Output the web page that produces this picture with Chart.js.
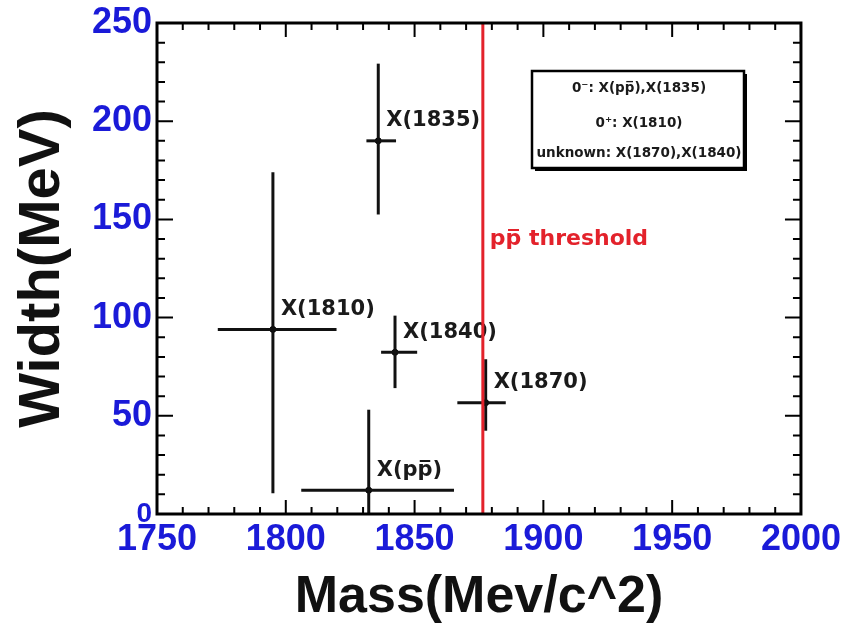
<!DOCTYPE html>
<html><head><meta charset="utf-8">
<script src="https://cdn.jsdelivr.net/npm/chart.js@4/dist/chart.umd.min.js"></script>
<style>html,body{margin:0;padding:0;background:#fff;}#wrap{width:849px;height:633px;position:relative;}</style>
</head><body><div id="wrap"><canvas id="c"></canvas></div>
<script>
// ---- data ----
const names      = ['X(p\u0070\u0305)', 'X(1810)', 'X(1835)', 'X(1840)', 'X(1870)'];
const mass       = [1832.2, 1795.0, 1835.9, 1842.4, 1877.6];
const massErrLo  = [26.2, 21.4, 4.6, 5.4, 11.0];
const massErrHi  = [33.1, 24.7, 6.9, 8.6, 7.8];
const width      = [12.1, 94.0, 190.0, 82.3, 56.7];
const widthErrUp = [41.0, 80.0, 39.3, 18.7, 22.1];
const widthErrDn = [20.0, 83.4, 37.5, 18.2, 14.3];
const threshold  = 1876.5;
const xTicks     = [1750, 1800, 1850, 1900, 1950, 2000];
const yTicks     = [0, 50, 100, 150, 200, 250];
const legendLines = ['0\u207B: X(p\u0070\u0305),X(1835)', '0\u207A: X(1810)', 'unknown: X(1870),X(1840)'];
const thresholdLabel = 'p\u0070\u0305 threshold';

// ---- datasets ----
const datasets = [];
datasets.push({ label: 'threshold', data: [{x: threshold, y: 0}, {x: threshold, y: 250}],
  showLine: true, borderColor: '#e3222b', borderWidth: 3, pointRadius: 0 });
for (let i = 0; i < names.length; i++) {
  datasets.push({ label: names[i] + ' mass', data: [{x: mass[i] - massErrLo[i], y: width[i]}, {x: mass[i] + massErrHi[i], y: width[i]}],
    showLine: true, borderColor: '#111', borderWidth: 3, pointRadius: 0 });
  datasets.push({ label: names[i] + ' width', data: [{x: mass[i], y: width[i] - widthErrDn[i]}, {x: mass[i], y: width[i] + widthErrUp[i]}],
    showLine: true, borderColor: '#111', borderWidth: 3, pointRadius: 0 });
}
datasets.push({ label: 'centres', data: mass.map((m, i) => ({x: m, y: width[i]})),
  showLine: false, backgroundColor: '#000', borderColor: '#000', pointRadius: 3 });

const BLUE = '#1a1ad8';
const TICKFONT = '"Liberation Sans", Arial';

const decor = {
  id: 'decor',
  beforeDatasetsDraw(chart) {
    const {ctx, scales: {x, y}} = chart;
    ctx.save();
    ctx.font = 'bold 21px "DejaVu Sans"';
    ctx.fillStyle = '#1a1a1a';
    ctx.textAlign = 'left';
    ctx.textBaseline = 'middle';
    names.forEach((n, i) => {
      ctx.fillText(n, x.getPixelForValue(mass[i]) + 8, y.getPixelForValue(width[i]) - 20);
    });
    ctx.restore();
  },
  afterDatasetsDraw(chart) {
    const {ctx, chartArea: a, scales: {x, y}} = chart;
    ctx.save();
    ctx.font = 'bold 22px "DejaVu Sans"';
    ctx.fillStyle = '#e3222b';
    ctx.textAlign = 'left';
    ctx.textBaseline = 'middle';
    ctx.fillText(thresholdLabel, x.getPixelForValue(threshold) + 7, y.getPixelForValue(140));
    ctx.strokeStyle = '#000';
    ctx.lineWidth = 3;
    ctx.strokeRect(a.left, a.top, a.right - a.left, a.bottom - a.top);
    ctx.lineWidth = 2;
    ctx.beginPath();
    for (let v = 1750; v <= 2000; v += 10) {
      const px = x.getPixelForValue(v);
      const L = (v % 50 === 0) ? 14 : 7;
      ctx.moveTo(px, a.bottom); ctx.lineTo(px, a.bottom - L);
      ctx.moveTo(px, a.top); ctx.lineTo(px, a.top + L);
    }
    for (let v = 0; v <= 250; v += 10) {
      const py = y.getPixelForValue(v);
      const L = (v % 50 === 0) ? 16 : 8;
      ctx.moveTo(a.left, py); ctx.lineTo(a.left + L, py);
      ctx.moveTo(a.right, py); ctx.lineTo(a.right - L, py);
    }
    ctx.stroke();
    const bx = a.left + 375, by = a.top + 48, bw = 212, bh = 97;
    ctx.fillStyle = '#000';
    ctx.fillRect(bx + 3, by + 3, bw, bh);
    ctx.fillStyle = '#fff';
    ctx.fillRect(bx, by, bw, bh);
    ctx.lineWidth = 2.5;
    ctx.strokeRect(bx, by, bw, bh);
    ctx.font = 'bold 13.5px "DejaVu Sans"';
    ctx.fillStyle = '#1a1a1a';
    ctx.textAlign = 'center';
    const cx = bx + bw / 2 + 1;
    ctx.fillText(legendLines[0], cx, by + 17);
    ctx.fillText(legendLines[1], cx, by + 52);
    ctx.fillText(legendLines[2], cx, by + 82);
    ctx.restore();
  }
};

new Chart(document.getElementById('c'), {
  type: 'scatter',
  data: { datasets },
  options: {
    responsive: true, maintainAspectRatio: false, animation: false,
    layout: { padding: { top: 19, right: 44, left: 0, bottom: 0 } },
    plugins: { legend: { display: false }, tooltip: { enabled: false } },
    scales: {
      x: {
        type: 'linear', min: 1750, max: 2000,
        afterBuildTicks: s => { s.ticks = xTicks.map(v => ({value: v})); },
        afterFit: s => { s.height = 119; },
        grid: { display: false, drawTicks: false }, border: { display: false },
        ticks: { color: BLUE, font: { family: TICKFONT, weight: 'bold', size: 36, lineHeight: 1 }, padding: 8, maxRotation: 0,
          callback: v => String(v) },
        title: { display: true, text: 'Mass(Mev/c^2)', color: '#111', font: { family: 'Liberation Sans, Arial', weight: 'bold', size: 52 }, padding: { bottom: 4 } }
      },
      y: {
        type: 'linear', min: 0, max: 250,
        afterBuildTicks: s => { s.ticks = yTicks.map(v => ({value: v})); },
        afterFit: s => { s.width = 157; },
        grid: { display: false, drawTicks: false }, border: { display: false },
        ticks: { color: BLUE, padding: 5, callback: v => String(v),
          font: c => ({ family: TICKFONT, weight: 'bold', size: (c.tick && c.tick.value === 0) ? 28 : 36, lineHeight: 1 }) },
        title: { display: true, text: 'Width(MeV)', color: '#111', font: { family: 'Liberation Sans, Arial', weight: 'bold', size: 58 }, padding: { top: 8 } }
      }
    }
  },
  plugins: [decor]
});
</script>
</body></html>
